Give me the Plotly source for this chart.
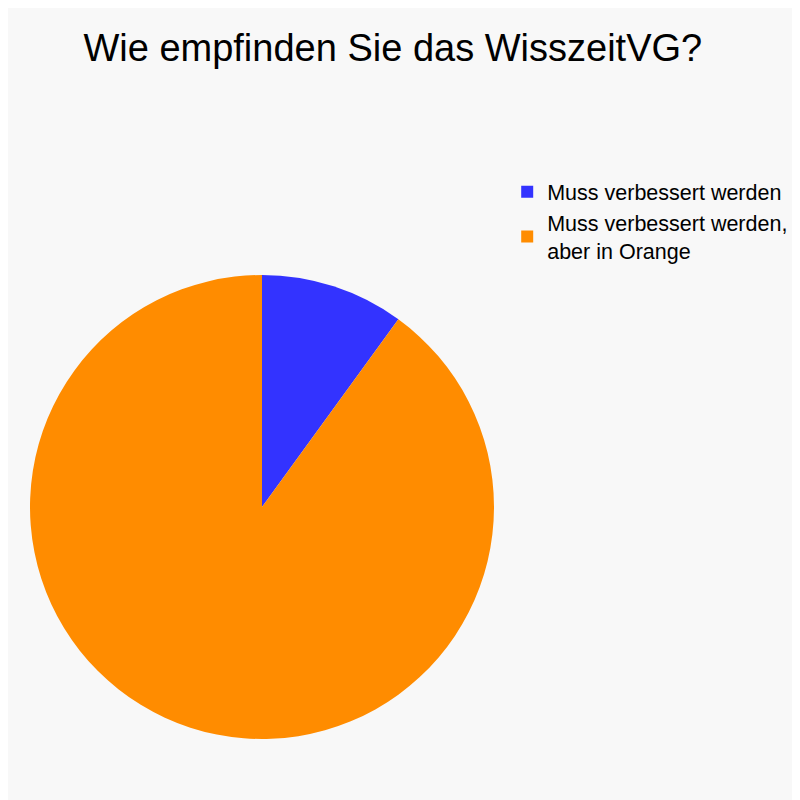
import plotly.graph_objects as go

labels = ['Muss verbessert werden', 'Muss verbessert werden,<br>aber in Orange']
values = [10, 90]
colors = ['#3333FF', '#FF8C00']

fig = go.Figure()

fig.add_trace(go.Pie(
    labels=labels,
    values=values,
    sort=False,
    direction='clockwise',
    rotation=0,
    textinfo='none',
    hoverinfo='label+percent',
    marker=dict(colors=colors, line=dict(width=0)),
    domain=dict(x=[0.0275, 0.6075], y=[0.08625, 0.66625]),
))

fig.update_layout(
    title=dict(text='Wie empfinden Sie das WisszeitVG?', x=0.481, xanchor='center',
               y=0.951, yanchor='middle',
               font=dict(family='Liberation Sans, Arial', size=38, color='#000000')),
    font=dict(family='Liberation Sans, Arial', color='#000000'),
    legend=dict(x=0.624, y=0.796, xanchor='left', yanchor='top',
                font=dict(size=21.5), tracegroupgap=0, bgcolor='rgba(0,0,0,0)'),
    paper_bgcolor='#F8F8F8',
    plot_bgcolor='#F8F8F8',
    margin=dict(l=0, r=0, t=0, b=0),
    width=800,
    height=800,
)

fig.write_html('out.html')
